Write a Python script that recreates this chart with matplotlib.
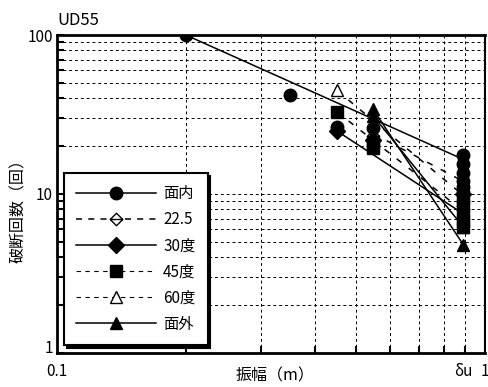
import matplotlib
matplotlib.use("Agg")
import matplotlib.pyplot as plt
import matplotlib.transforms as mtransforms
from matplotlib.path import Path
from matplotlib.lines import Line2D

plt.rcParams['font.family'] = ['Noto Sans CJK JP', 'DejaVu Sans']

du = 0.89  # δu

# measured points per series
x_in = [0.2, 0.35, 0.45, 0.548, du, du, du, du, du]
y_in = [100, 42, 26.5, 26, 17.5, 15.5, 13.5, 12, 11]
x_225 = [0.548, du]
y_225 = [23, 10.5]
x_30 = [0.45, 0.548, du]
y_30 = [25, 22, 10]
x_45 = [0.45, 0.548, 0.548, du, du, du, du, du]
y_45 = [33, 21, 19.5, 9.5, 8.5, 7.5, 6.8, 6.2]
x_60 = [0.45, du]
y_60 = [45, 10.2]
x_out = [0.548, 0.548, du, du]
y_out = [34, 31, 4.8, 6.2]

# fitted lines (start, end)
fit_in = ([0.2, du], [100, 16.5])
fit_225 = ([0.548, du], [24, 12])
fit_30 = ([0.45, du], [25, 7.5])
fit_45 = ([0.45, du], [33, 7.8])
fit_60 = ([0.45, du], [45, 9.8])
fit_out = ([0.548, du], [34, 4.8])
fit_out2 = ([0.548, du], [31, 6.2])

# diamond with a horizontal bar
dia = Path([(0, 1), (1, 0), (0, -1), (-1, 0), (0, 1), (-1, 0), (1, 0)],
           [Path.MOVETO, Path.LINETO, Path.LINETO, Path.LINETO, Path.CLOSEPOLY,
            Path.MOVETO, Path.LINETO])

fig = plt.figure(figsize=(4.88, 3.87), dpi=100)
ax = fig.add_axes([57 / 488, 34 / 387, 428 / 488, 318 / 387])
ax.set_xscale('log')
ax.set_yscale('log')
ax.set_xlim(0.1, 1)
ax.set_ylim(1, 100)

dash = (0, (3, 3))
for fx, fy in [fit_in, fit_30, fit_out, fit_out2]:
    ax.plot(fx, fy, color='k', lw=1.1, zorder=3)
for fx, fy in [fit_225, fit_45, fit_60]:
    ax.plot(fx, fy, color='k', lw=1.1, ls=(0, (4, 6)), zorder=3)

ms = 9
ax.plot(x_225, y_225, ls='none', marker=dia, ms=ms, mfc='white', mec='k', mew=1, zorder=4)
ax.plot(x_60, y_60, ls='none', marker='^', ms=ms, mfc='white', mec='k', mew=1, zorder=4)
ax.plot(x_45, y_45, ls='none', marker='s', ms=ms, color='k', zorder=5)
ax.plot(x_30, y_30, ls='none', marker='D', ms=ms - 1, color='k', zorder=5)
ax.plot(x_in, y_in, ls='none', marker='o', ms=ms, color='k', zorder=5)
ax.plot(x_out, y_out, ls='none', marker='^', ms=ms, color='k', zorder=5)

ax.grid(True, which='both', color='k', lw=0.7, ls=dash)
ax.xaxis.grid(False, which='major')
ax.set_axisbelow(True)

ax.set_xticks([0.1, du, 1])
ax.set_xticklabels(['0.1', 'δu', '1'])
ax.set_yticks([1, 10, 100])
ax.set_yticklabels(['1', '10', '100'])
ax.tick_params(which='both', direction='in', labelsize=11, width=1.5)
ax.tick_params(axis='y', which='both', length=5, pad=3)
ax.tick_params(axis='x', which='major', length=0, pad=7)
ax.tick_params(axis='x', which='minor', length=5, labelbottom=False)

# lift the "1" on the y axis clear of the "0.1" below it
lab1 = ax.get_yticklabels()[0]
lab1.set_transform(lab1.get_transform() + mtransforms.ScaledTranslation(0, 5 / 72, fig.dpi_scale_trans))

for side in ['left', 'bottom', 'top']:
    ax.spines[side].set_linewidth(2)
ax.spines['right'].set_linewidth(1.5)

fig.text(275 / 488, 1 - 376 / 387, '振幅（m）', fontsize=11.5, ha='center', va='center')
fig.text(18 / 488, 1 - 207 / 387, '破断回数（回）', fontsize=11.5, ha='center', va='center',
         rotation=90)
ax.text(0.0, 1.02, 'UD55', transform=ax.transAxes, fontsize=12, ha='left', va='bottom')

handles = [
    Line2D([], [], color='k', lw=1.1, marker='o', ms=ms),
    Line2D([], [], color='k', lw=1.1, ls=(0, (4, 4)), marker=dia, ms=ms, mfc='white', mew=1),
    Line2D([], [], color='k', lw=1.1, marker='D', ms=ms - 1),
    Line2D([], [], color='k', lw=0.8, ls=(0, (4, 4)), marker='s', ms=ms),
    Line2D([], [], color='k', lw=0.8, ls=(0, (4, 4)), marker='^', ms=ms, mfc='white', mew=1),
    Line2D([], [], color='k', lw=1.1, marker='^', ms=ms),
]
labels = ['面内', '22.5', '30度', '45度', '60度', '面外']
leg = ax.legend(handles, labels, loc='lower left', bbox_to_anchor=(0.016, 0.025),
                borderaxespad=0, fontsize=11, handlelength=5.2, handletextpad=0.5,
                labelspacing=0.6, borderpad=0.8, fancybox=False, framealpha=1,
                shadow={'color': 'k', 'alpha': 1})
leg.get_frame().set_edgecolor('k')
leg.get_frame().set_linewidth(1.5)
leg.set_zorder(10)

fig.savefig('out.png', dpi=100)
